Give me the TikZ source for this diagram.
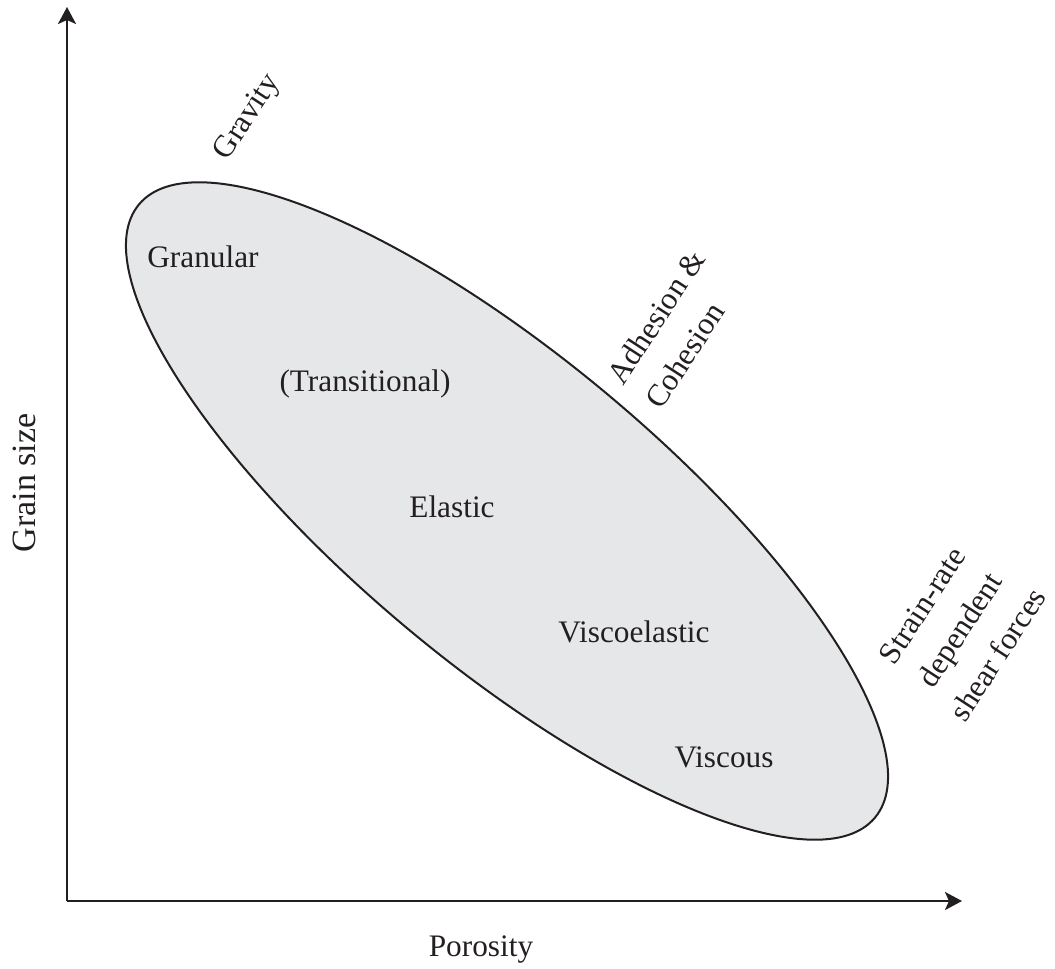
\documentclass[tikz,border=0pt]{standalone}
\usepackage{fontspec}
\setmainfont{Liberation Serif}
\usetikzlibrary{arrows.meta,shapes.geometric}
\definecolor{ink}{HTML}{231F20}
\definecolor{blob}{HTML}{E6E7E9}
\begin{document}
\begin{tikzpicture}[x=1pt,y=-1pt,
  lbl/.style={text=ink,font=\fontsize{31.3}{45}\selectfont,inner sep=0pt},
  slant/.style={lbl,rotate=57},
  axis/.style={draw=ink,line width=2.4pt,-{Stealth[length=17pt,width=18pt,inset=4pt]}}]
\useasboundingbox (0,0) rectangle (1055,969);
\node[ellipse,draw=ink,fill=blob,line width=2pt,inner sep=0pt,
  minimum width=958pt,minimum height=308pt,rotate=-39.8] (blob) at (507,511) {};
\coordinate (o) at (67,901);
\coordinate (ytop) at (67,7);
\coordinate (xend) at (962,901);
\draw[axis] (o) -- (ytop);
\draw[axis] (o) -- (xend);
\node[lbl] (granular) at (203,257) {Granular};
\node[lbl] (trans) at (365,384) {(Transitional)};
\node[lbl] (elastic) at (452,507) {Elastic};
\node[lbl] (visco) at (634,632) {Viscoelastic};
\node[lbl] (viscous) at (724,757) {Viscous};
\node[lbl] (poro) at (481,950) {Porosity};
\node[lbl,font=\fontsize{34}{40}\selectfont,rotate=90] (grain) at (24,483) {Grain size};
\node[slant] (gravity) at (248,118) {Gravity};
\node[slant,align=left] (adh) at (675,329) {Adhesion \&\\Cohesion};
\node[slant,align=center] (strain) at (960,630) {Strain-rate\\dependent\\shear forces};
\end{tikzpicture}
\end{document}
